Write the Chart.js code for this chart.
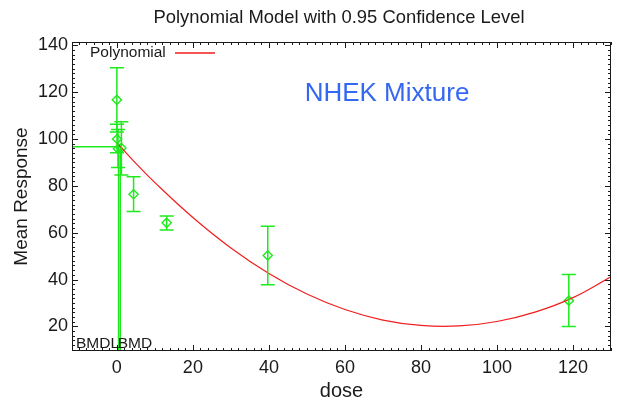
<!DOCTYPE html>
<html><head><meta charset="utf-8">
<script src="https://cdn.jsdelivr.net/npm/chart.js@4.4.0/dist/chart.umd.min.js"></script>
<style>html,body{margin:0;padding:0;background:#fff}#wrap{width:617px;height:404px}</style>
</head><body><div id="wrap"><canvas id="c" width="617" height="404"></canvas></div>
<script>
// ---- data ----
const doseVals  = [0, 0.05, 0.3, 1.2, 4.4, 13.1, 39.7, 118.9];
const meanVals  = [116.7, 100.0, 95.8, 96.2, 76.4, 64.2, 50.3, 31.0];
const lowerVals = [103.0, 94.1, 87.8, 84.6, 69.1, 61.2, 37.8, 20.0];
const upperVals = [130.4, 106.3, 104.0, 107.4, 83.9, 67.1, 62.7, 42.2];
const curveDose = [0, 5, 10, 20, 30, 40, 50, 60, 70, 80, 90, 100, 110, 120, 130];
const curveResp = [98.4, 89.6, 81.4, 66.5, 53.5, 42.6, 33.8, 27.2, 22.7, 20.4, 20.2, 22.1, 26.1, 32.3, 41.2];
const bmdlVal = 0.45, bmdVal = 0.9, bmrLevel = 96.7;
const xTickVals = [0, 20, 40, 60, 80, 100, 120];
const yTickVals = [20, 40, 60, 80, 100, 120, 140];
const xRange = [-11.8, 130], yRange = [9.5, 141.4];

const GREEN = 'rgb(30,234,30)', RED = 'rgb(240,30,30)', INK = '#1a1a1a';
const FONT = '"Liberation Sans", Arial, Helvetica, sans-serif';

const pts = doseVals.map((d, i) => ({x: d, y: meanVals[i]}));
const curve = curveDose.map((d, i) => ({x: d, y: curveResp[i]}));

const deco = {
  id: 'deco',
  beforeDraw(chart) {
    const c = chart.ctx; c.save(); c.fillStyle = '#fff'; c.fillRect(0, 0, chart.width, chart.height); c.restore();
  },
  afterDatasetsDraw(chart) {
    const {ctx: c, chartArea: a, scales: {x, y}} = chart;
    c.save();
    c.beginPath(); c.rect(a.left, a.top, a.right - a.left, a.bottom - a.top); c.clip();
    c.strokeStyle = GREEN; c.lineWidth = 1.5;
    doseVals.forEach((d, i) => {
      const px = x.getPixelForValue(d), t = y.getPixelForValue(upperVals[i]), b = y.getPixelForValue(lowerVals[i]);
      c.beginPath();
      c.moveTo(px, t); c.lineTo(px, b);
      c.moveTo(px - 7, t); c.lineTo(px + 7, t);
      c.moveTo(px - 7, b); c.lineTo(px + 7, b);
      c.stroke();
    });
    c.restore();
  },
  afterDraw(chart) {
    const {ctx: c, chartArea: a, scales: {x, y}} = chart;
    c.save();
    c.strokeStyle = INK; c.lineWidth = 1;
    c.strokeRect(a.left + 0.5, a.top + 0.5, a.right - a.left - 1, a.bottom - a.top - 1);
    c.beginPath();
    for (let v = -10; v <= 130; v += 2) {
      const px = Math.round(x.getPixelForValue(v)) + 0.5, L = (v % 20 === 0) ? 6 : 3;
      c.moveTo(px, a.bottom); c.lineTo(px, a.bottom - L);
      c.moveTo(px, a.top); c.lineTo(px, a.top + L);
    }
    for (let v = 10; v <= 140; v += 2) {
      const py = Math.round(y.getPixelForValue(v)) + 0.5, L = (v % 20 === 0) ? 6 : 3;
      c.moveTo(a.left, py); c.lineTo(a.left + L, py);
      c.moveTo(a.right, py); c.lineTo(a.right - L, py);
    }
    c.stroke();
    // title
    c.fillStyle = INK; c.textAlign = 'center'; c.textBaseline = 'middle';
    c.font = '18.4px ' + FONT;
    c.fillText('Polynomial Model with 0.95 Confidence Level', 339, 18);
    // legend
    c.textAlign = 'left'; c.font = '15.5px ' + FONT;
    c.fillText('Polynomial', 90, 53);
    c.strokeStyle = RED; c.lineWidth = 1.3;
    c.beginPath(); c.moveTo(175, 53); c.lineTo(215, 53); c.stroke();
    // annotation
    c.fillStyle = 'rgb(52,104,240)'; c.textAlign = 'center'; c.font = '26px ' + FONT;
    c.fillText('NHEK Mixture', 387, 94);
    // BMDL / BMD labels
    c.fillStyle = INK; c.font = '15.5px ' + FONT; c.textBaseline = 'alphabetic';
    c.textAlign = 'right'; c.fillText('BMDL', x.getPixelForValue(bmdlVal) + 0.5, a.bottom - 3);
    c.textAlign = 'left'; c.fillText('BMD', x.getPixelForValue(bmdVal) - 2.5, a.bottom - 3);
    c.restore();
  }
};

new Chart(document.getElementById('c'), {
  type: 'scatter',
  data: {datasets: [
    {data: curve, showLine: true, borderColor: RED, borderWidth: 1.2, pointRadius: 0, tension: 0.4},
    {data: [{x: xRange[0], y: bmrLevel}, {x: bmdVal, y: bmrLevel}, {x: bmdVal, y: yRange[0]}], showLine: true, borderColor: GREEN, borderWidth: 1.5, pointRadius: 0, tension: 0},
    {data: [{x: bmdlVal, y: bmrLevel}, {x: bmdlVal, y: yRange[0]}], showLine: true, borderColor: GREEN, borderWidth: 1.5, pointRadius: 0, tension: 0},
    {data: pts, pointStyle: 'rectRot', pointRadius: 4.6, borderColor: GREEN, borderWidth: 1.4, backgroundColor: 'rgba(0,0,0,0)'}
  ]},
  options: {
    responsive: false, devicePixelRatio: 1, animation: false,
    layout: {padding: {top: 42, right: 2, left: 0, bottom: 0}},
    plugins: {legend: {display: false}, title: {display: false}, tooltip: {enabled: false}},
    scales: {
      x: {type: 'linear', min: xRange[0], max: xRange[1],
          afterBuildTicks: s => { s.ticks = xTickVals.map(v => ({value: v})); },
          afterFit: s => { s.height = 53; },
          grid: {display: false, drawTicks: false}, border: {display: false},
          ticks: {padding: 6, color: INK, font: {family: FONT, size: 18}, maxRotation: 0},
          title: {display: true, text: 'dose', color: INK, font: {family: FONT, size: 20}, padding: {top: 0, bottom: 1}}},
      y: {type: 'linear', min: yRange[0], max: yRange[1],
          afterBuildTicks: s => { s.ticks = yTickVals.map(v => ({value: v})); },
          afterFit: s => { s.width = 72; },
          grid: {display: false, drawTicks: false}, border: {display: false},
          ticks: {padding: 4, color: INK, font: {family: FONT, size: 18}},
          title: {display: true, text: 'Mean Response', color: INK, font: {family: FONT, size: 19}, padding: {top: 10, bottom: 0}}}
    }
  },
  plugins: [deco]
});
</script></body></html>
